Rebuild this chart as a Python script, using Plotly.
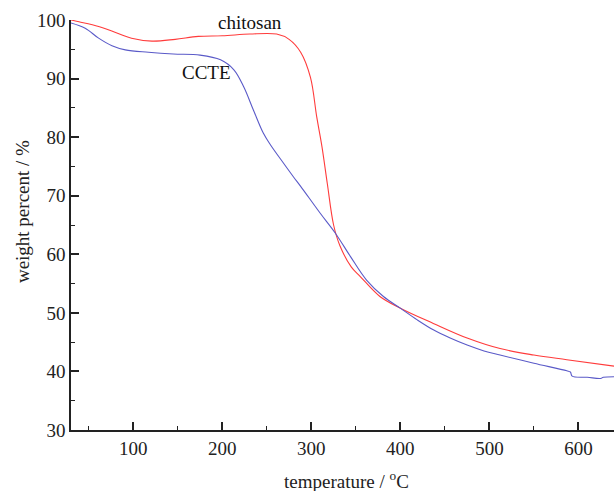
import plotly.graph_objects as go

# Data (TGA curves)
temp_chitosan = [30, 39, 61, 83, 98, 121, 147, 173, 200, 231, 261, 275, 288, 299, 306, 312, 318, 325, 332, 345, 355, 377, 400, 437, 475, 512, 550, 587, 640]
wt_chitosan = [100.0, 99.7, 98.9, 97.7, 96.9, 96.4, 96.7, 97.2, 97.3, 97.6, 97.6, 96.7, 94.5, 90.2, 83.5, 78.3, 72.0, 65.0, 61.5, 57.8, 56.2, 52.8, 50.8, 48.2, 45.7, 43.9, 42.8, 42.0, 40.9]

temp_ccte = [30, 46, 61, 76, 91, 117, 145, 175, 198, 213, 224, 235, 246, 254, 269, 280, 288, 310, 327, 344, 362, 381, 400, 419, 437, 456, 475, 494, 512, 550, 587, 591, 593, 610, 625, 628, 640]
wt_ccte = [99.5, 98.6, 96.9, 95.6, 94.9, 94.5, 94.2, 94.0, 93.2, 91.5, 88.6, 84.6, 80.7, 78.7, 75.5, 73.2, 71.6, 67.0, 63.6, 59.6, 55.6, 52.8, 50.8, 48.8, 47.1, 45.7, 44.5, 43.5, 42.8, 41.4, 40.1, 39.9, 39.2, 39.0, 38.8, 39.0, 39.1]

x_ticks = [100, 200, 300, 400, 500, 600]
y_ticks = [30, 40, 50, 60, 70, 80, 90, 100]

FONT = "Liberation Serif, Times New Roman, serif"
FS = 19

fig = go.Figure()
fig.add_trace(go.Scatter(x=temp_chitosan, y=wt_chitosan, mode="lines", name="chitosan",
                         line=dict(color="#ff3b3b", width=1.1, shape="spline", smoothing=1.0)))
fig.add_trace(go.Scatter(x=temp_ccte, y=wt_ccte, mode="lines", name="CCTE",
                         line=dict(color="#5a5ac8", width=1.1, shape="spline", smoothing=1.0)))

fig.add_annotation(x=231, y=99.6, text="chitosan", showarrow=False, xref="x", yref="y",
                   font=dict(family=FONT, size=FS, color="#111"))
fig.add_annotation(x=182, y=91.0, text="CCTE", showarrow=False, xref="x", yref="y",
                   font=dict(family=FONT, size=FS, color="#111"))

# axis titles placed as annotations (paper coordinates)
fig.add_annotation(x=-0.088, y=0.532, xref="paper", yref="paper", text="weight percent / %",
                   textangle=-90, showarrow=False, xanchor="center", yanchor="middle",
                   font=dict(family=FONT, size=FS, color="#222"))
fig.add_annotation(x=0.508, y=-0.122, xref="paper", yref="paper", text="temperature / <sup>o</sup>C",
                   showarrow=False, xanchor="center", yanchor="middle",
                   font=dict(family=FONT, size=FS, color="#222"))

axis_common = dict(showgrid=False, zeroline=False, showline=True, linecolor="#222", linewidth=1.6,
                   ticks="inside", ticklen=8, tickwidth=1.6, tickcolor="#222", automargin=False,
                   tickfont=dict(family=FONT, size=FS, color="#222"))

fig.update_xaxes(range=[30, 640], tickvals=x_ticks,
                 minor=dict(dtick=50, tick0=0, ticks="inside", ticklen=4, tickwidth=1.3, tickcolor="#222"),
                 **axis_common)
fig.update_yaxes(range=[30, 100], tickvals=y_ticks,
                 minor=dict(dtick=5, tick0=0, ticks="inside", ticklen=4, tickwidth=1.3, tickcolor="#222"),
                 **axis_common)

fig.update_layout(width=614, height=491, margin=dict(l=71, r=0, t=20, b=61),
                  plot_bgcolor="white", paper_bgcolor="white", showlegend=False)

fig.write_html("out.html", config={"displayModeBar": False},
               post_script="document.body.style.margin='0';document.body.style.overflow='hidden';")
